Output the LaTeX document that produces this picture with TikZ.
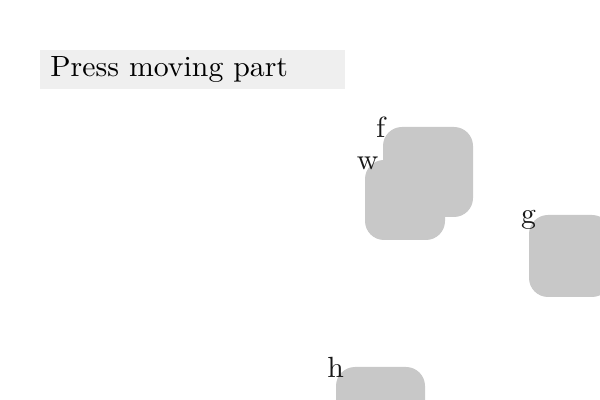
\documentclass[tikz,border=0pt]{standalone}
\usepackage{tikz}
\definecolor{partgray}{HTML}{C8C8C8}
\definecolor{titlegray}{HTML}{EFEFEF}
\newcommand{\enlarged}[1]{\scalebox{1.49}[1.46]{#1}}
\begin{document}
\begin{tikzpicture}[x=0.5pt, y=-0.5pt, font=\fontsize{10}{12}\selectfont]
        \tikzstyle{part}=[rectangle, fill=partgray, rounded corners=9.5pt, inner sep=0pt]
        \tikzstyle{tag}=[anchor=base, inner sep=0pt, text=black!90]
        \clip (0,0) rectangle (600,400);

            % Title
            \node[fill=titlegray, anchor=north west, minimum height=19.5pt, text width=142.5pt,
                  inner xsep=5pt, inner ysep=0pt, align=left] (title) at (40,50) {\enlarged{Press moving part}};

            % Parts
            \node[part, minimum size=45pt] (f) at (428,172) {};
            \node[part, minimum size=40pt] (w) at (405,200) {};
            \node[part, minimum size=41pt] (g) at (570,256) {};
            \node[part, minimum size=44.5pt] (h) at (380.5,411.5) {};

            % Labels
            \node[tag] at ([xshift=-1pt, yshift=-5.5pt]f.north west) {\enlarged{f}};
            \node[tag] at ([xshift=1.5pt, yshift=-5pt]w.north west) {\enlarged{w}};
            \node[tag] at ([yshift=-4.5pt]g.north west) {\enlarged{g}};
            \node[tag] at ([yshift=-5.5pt]h.north west) {\enlarged{h}};
\end{tikzpicture}
\end{document}
